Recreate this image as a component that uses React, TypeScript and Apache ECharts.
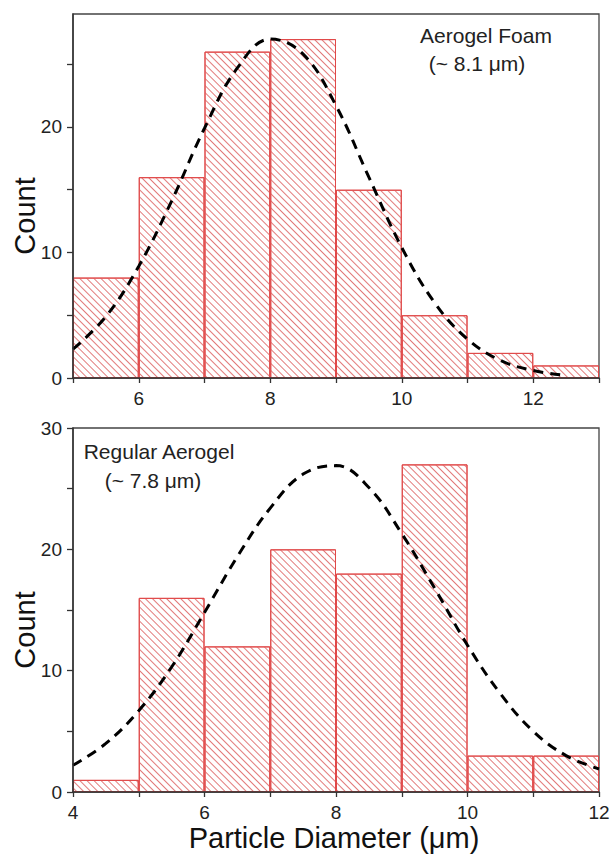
import React, { useEffect, useRef } from 'react';
import * as echarts from 'echarts';

const foamBins = ['5-6', '6-7', '7-8', '8-9', '9-10', '10-11', '11-12', '12-13'];
const foamCounts = [8, 16, 26, 27, 15, 5, 2, 1];
const foamFitX = [5, 5.5, 6, 6.5, 7, 7.5, 8, 8.5, 9, 9.5, 10, 10.5, 11, 11.5, 12, 12.5];
const foamFitY = [2.3, 4.9, 8.9, 14.1, 19.9, 24.7, 27.0, 25.8, 21.7, 16.0, 10.4, 6.0, 3.1, 1.4, 0.6, 0.2];

const regularBins = ['4-5', '5-6', '6-7', '7-8', '8-9', '9-10', '10-11', '11-12'];
const regularCounts = [1, 16, 12, 20, 18, 27, 3, 3];
const regularFitX = [4, 4.5, 5, 5.5, 6, 6.5, 7, 7.5, 8, 8.5, 9, 9.5, 10, 10.5, 11, 11.5, 12];
const regularFitY = [2.2, 4.0, 6.7, 10.3, 14.8, 19.4, 23.4, 26.2, 26.9, 25.1, 21.3, 16.8, 12.1, 8.1, 5.0, 3.0, 1.9];

const foamXTicks = [5, 6, 7, 8, 9, 10, 11, 12, 13];
const foamXLabels = [6, 8, 10, 12];
const foamYTicks = [0, 5, 10, 15, 20, 25];
const foamYLabels = [0, 10, 20];
const regularXTicks = [4, 5, 6, 7, 8, 9, 10, 11, 12];
const regularXLabels = [4, 6, 8, 10, 12];
const regularYTicks = [0, 5, 10, 15, 20, 25, 30];
const regularYLabels = [0, 10, 20, 30];

const FONT = "'Liberation Sans', Arial, sans-serif";
const AXIS_COLOR = '#333';
const TEXT_COLOR = '#222';

function valueX(gridIndex: number, min: number, max: number, ticks: number[], labels: number[]) {
  return {
    type: 'value',
    gridIndex,
    position: 'bottom',
    min,
    max,
    z: 10,
    axisLine: { show: true, lineStyle: { color: AXIS_COLOR, width: 1.5 } },
    axisTick: { show: true, customValues: ticks, length: 5, lineStyle: { color: AXIS_COLOR, width: 1.3 } },
    axisLabel: { customValues: labels, fontSize: 19, color: TEXT_COLOR, margin: 11, fontFamily: FONT },
    splitLine: { show: false },
  };
}

function valueY(gridIndex: number, max: number, ticks: number[], labels: number[]) {
  return {
    type: 'value',
    gridIndex,
    min: 0,
    max,
    z: 10,
    axisLine: { show: true, lineStyle: { color: AXIS_COLOR, width: 1.5 } },
    axisTick: { show: true, customValues: ticks, length: 6, lineStyle: { color: AXIS_COLOR, width: 1.3 } },
    axisLabel: { customValues: labels, fontSize: 19, color: TEXT_COLOR, margin: 11, fontFamily: FONT },
    splitLine: { show: false },
  };
}

const hatch = {
  symbol: 'rect',
  symbolSize: 1,
  dashArrayX: [1, 0],
  dashArrayY: [0.9, 3.1],
  rotation: Math.PI / 4,
  color: '#e27a7a',
};

function barSeries(xAxisIndex: number, yAxisIndex: number, data: number[]) {
  return {
    type: 'bar',
    xAxisIndex,
    yAxisIndex,
    data,
    barCategoryGap: '0%',
    z: 2,
    itemStyle: { color: '#ffffff', borderColor: '#e04848', borderWidth: 1, decal: hatch },
    emphasis: { disabled: true },
  };
}

function fitSeries(xAxisIndex: number, yAxisIndex: number, xs: number[], ys: number[]) {
  return {
    type: 'line',
    xAxisIndex,
    yAxisIndex,
    data: xs.map((x, i) => [x, ys[i]]),
    smooth: 0.4,
    showSymbol: false,
    z: 5,
    lineStyle: { color: '#000', width: 3, type: [10, 7] },
  };
}

export default function App() {
  const ref = useRef<HTMLDivElement>(null);
  useEffect(() => {
    const chart = echarts.init(ref.current!, null, { renderer: 'svg' });
    const option = {
      animation: false,
      backgroundColor: '#ffffff',
      grid: [
        { left: 73, right: 14, top: 14, height: 364, show: true, borderColor: '#444', borderWidth: 1.3, backgroundColor: 'transparent' },
        { left: 73, right: 14, top: 428, height: 364, show: true, borderColor: '#444', borderWidth: 1.3, backgroundColor: 'transparent' },
      ],
      xAxis: [
        { type: 'category', gridIndex: 0, position: 'top', data: foamBins, show: false, boundaryGap: true },
        valueX(0, 5, 13, foamXTicks, foamXLabels),
        { type: 'category', gridIndex: 1, position: 'top', data: regularBins, show: false, boundaryGap: true },
        valueX(1, 4, 12, regularXTicks, regularXLabels),
      ],
      yAxis: [
        valueY(0, 29, foamYTicks, foamYLabels),
        valueY(1, 30, regularYTicks, regularYLabels),
      ],
      series: [
        barSeries(0, 0, foamCounts),
        fitSeries(1, 0, foamFitX, foamFitY),
        barSeries(2, 1, regularCounts),
        fitSeries(3, 1, regularFitX, regularFitY),
      ],
      graphic: [
        { type: 'text', x: 486, y: 35, style: { text: 'Aerogel Foam', fontSize: 21, fontFamily: FONT, fill: TEXT_COLOR, textAlign: 'center', textVerticalAlign: 'middle' } },
        { type: 'text', x: 477, y: 63, style: { text: '(~ 8.1 μm)', fontSize: 21, fontFamily: FONT, fill: TEXT_COLOR, textAlign: 'center', textVerticalAlign: 'middle' } },
        { type: 'text', x: 159, y: 451, style: { text: 'Regular Aerogel', fontSize: 21, fontFamily: FONT, fill: TEXT_COLOR, textAlign: 'center', textVerticalAlign: 'middle' } },
        { type: 'text', x: 153, y: 480, style: { text: '(~ 7.8 μm)', fontSize: 21, fontFamily: FONT, fill: TEXT_COLOR, textAlign: 'center', textVerticalAlign: 'middle' } },
        { type: 'text', x: 25, y: 216, rotation: Math.PI / 2, style: { text: 'Count', fontSize: 29, fontFamily: FONT, fill: '#111', textAlign: 'center', textVerticalAlign: 'middle' } },
        { type: 'text', x: 25, y: 630, rotation: Math.PI / 2, style: { text: 'Count', fontSize: 29, fontFamily: FONT, fill: '#111', textAlign: 'center', textVerticalAlign: 'middle' } },
        { type: 'text', x: 334, y: 838, style: { text: 'Particle Diameter (μm)', fontSize: 29, fontFamily: FONT, fill: '#111', textAlign: 'center', textVerticalAlign: 'middle' } },
      ],
    };
    chart.setOption(option as any);
    return () => chart.dispose();
  }, []);
  return <div ref={ref} style={{ position: 'absolute', left: 0, top: 0, width: 613, height: 859 }} />;
}
